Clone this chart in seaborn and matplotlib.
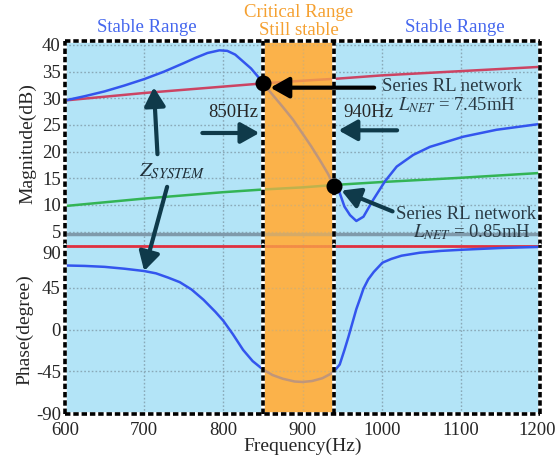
import numpy as np
import pandas as pd
import matplotlib
matplotlib.use("Agg")
import matplotlib.pyplot as plt
import matplotlib.transforms as mtransforms
import seaborn as sns
from matplotlib.patches import ConnectionPatch

# ---------------- data ----------------
freq_sys_mag = [600, 625, 650, 675, 700, 725, 750, 765, 780, 795, 805, 815, 825, 835, 843, 850,
                862, 875, 888, 900, 911, 922, 932, 940,
                945, 953, 960, 968, 977, 989, 1004, 1019, 1040, 1061, 1103, 1145, 1200]
mag_sys = [29.6, 30.4, 31.3, 32.4, 33.6, 35.0, 36.6, 37.6, 38.5, 39.0, 38.9, 38.2, 36.9, 35.6, 34.2, 32.8,
           30.7, 28.4, 26.0, 23.4, 21.0, 18.4, 15.9, 13.6,
           13.1, 9.7, 8.1, 7.0, 7.8, 10.9, 14.4, 17.2, 19.4, 20.9, 22.8, 24.1, 25.2]

freq_rl = [600, 700, 800, 850, 900, 945, 1000, 1100, 1200]
mag_rl_745 = [29.6, 31.0, 32.2, 32.8, 33.3, 33.7, 34.3, 35.1, 35.9]
mag_rl_085 = [9.8, 11.2, 12.4, 12.9, 13.3, 13.8, 14.3, 15.1, 16.0]
mag_ref_line = [4.6, 4.6, 4.6, 4.6, 4.6, 4.6, 4.6, 4.6, 4.6]
phase_rl = [89.7, 89.7, 89.7, 89.7, 89.7, 89.7, 89.7, 89.7, 89.7]

freq_sys_ph = [600, 625, 650, 675, 700, 715, 730, 745, 760, 775, 790, 800, 812, 825, 837, 850,
               862, 875, 890, 900, 912, 925, 935, 940,
               947, 953, 958, 963, 968, 973, 977, 983, 990, 1001, 1012, 1025, 1048, 1075, 1103, 1150, 1200]
phase_sys = [69, 68.5, 67.5, 65.5, 63, 60.5, 56, 51, 43, 32, 19, 9.4, -5, -22, -34, -43,
             -49, -53, -56, -56.5, -55.5, -52.5, -48, -45,
             -37.7, -22, -8, 7, 22, 34, 44, 54, 62, 72, 76, 79.5, 82.7, 84.7, 86, 87.8, 89]

crit_lo, crit_hi = 850, 940
dot_freqs = [850, 940]
dot_mags = [32.8, 13.6]

mag_ticks = [5, 10, 15, 20, 25, 30, 35, 40]
phase_ticks = [-90, -45, 0, 45, 90]
phase_tick_labels = ["-90", "-45", "0", "45", "90"]
freq_ticks = [600, 700, 800, 900, 1000, 1100, 1200]

# ---------------- style ----------------
sns.set_style("white")
plt.rcParams["font.family"] = ["Liberation Serif", "DejaVu Serif"]
plt.rcParams["mathtext.fontset"] = "stix"

BG = "#b3e4f7"
ORANGE = "#fbb24a"
BLUE = "#3355ee"
RED = "#cc4463"
RED2 = "#e03040"
GREEN = "#33b455"
GRAY = "#7f9aab"
TEAL = "#0f3a4a"
GRID = "#8aa9b8"

fig = plt.figure(figsize=(5.56, 4.65), dpi=100)
L, R = 65 / 556, 540 / 556
t1, b1 = 1 - 41 / 465, 1 - 245.5 / 465
b2 = 1 - 414 / 465
ax1 = fig.add_axes([L, b1, R - L, t1 - b1])
ax2 = fig.add_axes([L, b2, R - L, b1 - b2], sharex=ax1)

df_sys = pd.DataFrame({"f": freq_sys_mag, "m": mag_sys})
df_rl = pd.DataFrame({"f": freq_rl, "a": mag_rl_745, "b": mag_rl_085, "g": mag_ref_line, "p": phase_rl})
df_ph = pd.DataFrame({"f": freq_sys_ph, "p": phase_sys})

for ax in (ax1, ax2):
    ax.set_facecolor(BG)
    for s in ax.spines.values():
        s.set_visible(False)
    ax.grid(True, color=GRID, linestyle=(0, (1.2, 1.5)), linewidth=1.0)
    ax.set_axisbelow(True)
    ax.tick_params(length=0, labelsize=13.5, pad=3)
    # opaque critical band under the grid
    ax.axvspan(crit_lo, crit_hi, color=ORANGE, lw=0, zorder=0.3)

# magnitude panel
sns.lineplot(data=df_rl, x="f", y="g", ax=ax1, color=GRAY, lw=2.5, zorder=3)
sns.lineplot(data=df_rl, x="f", y="a", ax=ax1, color=RED, lw=1.8, zorder=3)
sns.lineplot(data=df_rl, x="f", y="b", ax=ax1, color=GREEN, lw=1.8, zorder=3)
sns.lineplot(data=df_sys, x="f", y="m", ax=ax1, color=BLUE, lw=1.8, zorder=4)
ax1.set_ylim(2.4, 40.75)
ax1.set_yticks(mag_ticks)
ax1.set_ylabel("Magnitude(dB)", fontsize=14, labelpad=4)
ax1.set_xlabel("")
ax1.tick_params(labelbottom=False)

# phase panel
sns.lineplot(data=df_rl, x="f", y="p", ax=ax2, color=RED2, lw=2.0, zorder=3)
sns.lineplot(data=df_ph, x="f", y="p", ax=ax2, color=BLUE, lw=1.8, zorder=4)
ax2.set_ylim(-91, 90.5)
ax2.set_yticks(phase_ticks)
ax2.set_yticklabels(phase_tick_labels)
ax2.get_yticklabels()[-1].set_va("top")
ax2.set_xlim(600, 1200)
ax2.set_xticks(freq_ticks)
ax2.tick_params(axis="x", pad=6)
xl = ax2.get_xticklabels()
xl[-1].set_transform(xl[-1].get_transform() +
                     mtransforms.ScaledTranslation(-3 / 100, 0, fig.dpi_scale_trans))
ax2.set_xlabel("Frequency(Hz)", fontsize=14, labelpad=-1)
ax2.set_ylabel("Phase(degree)", fontsize=14, labelpad=2)

# semi-transparent critical band over the curves + dashed borders
for ax in (ax1, ax2):
    ax.axvspan(crit_lo, crit_hi, color=ORANGE, alpha=0.7, lw=0, zorder=5)
    for xv in (600, crit_lo, crit_hi, 1200):
        ax.axvline(xv, color="white", lw=2.6, zorder=8, clip_on=False)
        ax.axvline(xv, color="black", lw=2.6, zorder=9, clip_on=False,
                   linestyle=(0, (1.5, 0.8)))
ax1.axhline(40.75, color="white", lw=2.6, zorder=8, clip_on=False)
ax1.axhline(40.75, color="black", lw=2.6, zorder=9, clip_on=False, linestyle=(0, (1.5, 0.8)))
ax2.axhline(-91, color="white", lw=2.6, zorder=8, clip_on=False)
ax2.axhline(-91, color="black", lw=2.6, zorder=9, clip_on=False, linestyle=(0, (1.5, 0.8)))

# dots
ax1.scatter(dot_freqs, dot_mags, s=110, color="black", zorder=12)

# arrows
arw = dict(arrowstyle="-|>,head_length=0.8,head_width=0.45", lw=3, mutation_scale=14)
ax1.annotate("", xy=(849, 23.5), xytext=(770, 23.5),
             arrowprops=dict(color=TEAL, **arw), zorder=11)
ax1.annotate("", xy=(942, 24.0), xytext=(1023, 24.0),
             arrowprops=dict(color=TEAL, **arw), zorder=11)
ax1.annotate("", xy=(856, 32.0), xytext=(994, 32.0),
             arrowprops=dict(color="black", **arw), zorder=11)
ax1.annotate("", xy=(946, 12.9), xytext=(1017, 8.6),
             arrowprops=dict(color=TEAL, **arw), zorder=11)
ax1.annotate("", xy=(712, 32.6), xytext=(717, 19.0),
             arrowprops=dict(color=TEAL, **arw), zorder=11)
cp = ConnectionPatch(xyA=(729, 13.4), coordsA=ax1.transData,
                     xyB=(700, 63), coordsB=ax2.transData,
                     color=TEAL, zorder=11, **arw)
fig.add_artist(cp)

# texts
ax1.text(812, 27.3, "850Hz", fontsize=13.5, ha="center", va="center", zorder=11)
ax1.text(983, 27.3, "940Hz", fontsize=13.5, ha="center", va="center", zorder=11)
ax1.text(1001, 32.3, "Series RL network", fontsize=13.5, ha="left", va="center",
         color="#2a3a44", zorder=11)
ax1.text(1020, 28.8, r"$L_{NET}$ = 7.45mH", fontsize=13.5, ha="left", va="center",
         color="#2a3a44", zorder=11)
ax1.text(1018, 8.3, "Series RL network", fontsize=13.5, ha="left", va="center",
         color="#2a3a44", zorder=11)
ax1.text(1039, 4.9, r"$L_{NET}$ = 0.85mH", fontsize=13.5, ha="left", va="center",
         color="#2a3a44", zorder=11)
ax1.text(694, 16.2, r"$Z_{SYSTEM}$", fontsize=15, ha="left", va="center",
         color="#1f2f38", zorder=11)

tr = ax1.get_xaxis_transform()
ax1.text(703, 1.065, "Stable Range", transform=tr, fontsize=13.5, ha="center",
         va="center", color="#4466ee")
ax1.text(1092, 1.065, "Stable Range", transform=tr, fontsize=13.5, ha="center",
         va="center", color="#4466ee")
ax1.text(895, 1.138, "Critical Range", transform=tr, fontsize=13.5, ha="center",
         va="center", color="#f5a030")
ax1.text(895, 1.05, "Still stable", transform=tr, fontsize=13.5, ha="center",
         va="center", color="#f5a030")

fig.savefig("out.png", dpi=100)
